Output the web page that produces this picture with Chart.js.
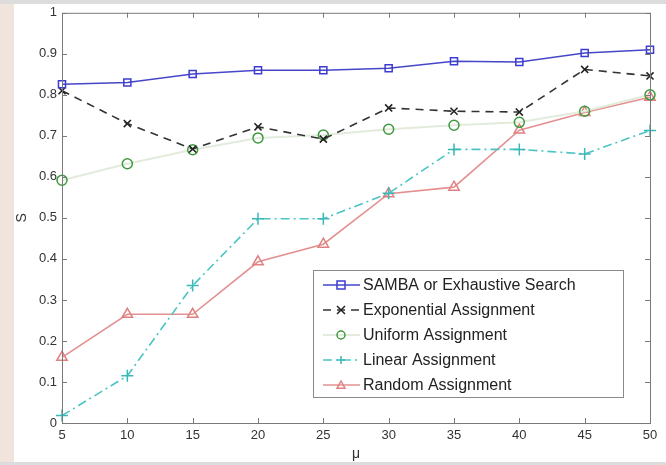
<!DOCTYPE html>
<html>
<head>
<meta charset="utf-8">
<script src="https://cdn.jsdelivr.net/npm/chart.js@4.4.1/dist/chart.umd.min.js"></script>
<style>
  html, body { margin: 0; padding: 0; background: #fff; }
</style>
</head>
<body>
<canvas id="grafico" width="666" height="465"></canvas>
<script>
// valores de mu (eixo x)
const mu = [5, 10, 15, 20, 25, 30, 35, 40, 45, 50];

// séries
const samba       = [0.826, 0.830, 0.851, 0.860, 0.860, 0.865, 0.882, 0.880, 0.902, 0.910];
const exponencial = [0.810, 0.730, 0.668, 0.722, 0.692, 0.768, 0.760, 0.758, 0.862, 0.846];
const uniforme    = [0.592, 0.632, 0.666, 0.695, 0.702, 0.716, 0.726, 0.733, 0.760, 0.800];
const linear      = [0.018, 0.115, 0.335, 0.498, 0.498, 0.560, 0.667, 0.667, 0.656, 0.713];
const aleatorio   = [0.160, 0.265, 0.265, 0.393, 0.436, 0.559, 0.575, 0.714, 0.757, 0.794];

const yTicks = [0, 0.1, 0.2, 0.3, 0.4, 0.5, 0.6, 0.7, 0.8, 0.9, 1];

const nomes = [
  "SAMBA or Exhaustive Search",
  "Exponential Assignment",
  "Uniform Assignment",
  "Linear Assignment",
  "Random Assignment"
];

const fonte = "'Liberation Sans', Arial, sans-serif";

// desenha um marcador simples
function desenhaMarca(ctx, estilo, x, y, r, cor) {
  ctx.save();
  ctx.strokeStyle = cor;
  ctx.lineWidth = 1.5;
  ctx.setLineDash([]);
  ctx.beginPath();
  if (estilo === "rect") {
    ctx.rect(x - r, y - r, 2 * r, 2 * r);
  } else if (estilo === "circle") {
    ctx.arc(x, y, r, 0, Math.PI * 2);
  } else if (estilo === "crossRot") {
    ctx.moveTo(x - r, y - r); ctx.lineTo(x + r, y + r);
    ctx.moveTo(x + r, y - r); ctx.lineTo(x - r, y + r);
  } else if (estilo === "cross") {
    ctx.moveTo(x - r, y); ctx.lineTo(x + r, y);
    ctx.moveTo(x, y - r); ctx.lineTo(x, y + r);
  } else if (estilo === "triangle") {
    ctx.moveTo(x, y - r);
    ctx.lineTo(x + r, y + r * 0.8);
    ctx.lineTo(x - r, y + r * 0.8);
    ctx.closePath();
  }
  ctx.stroke();
  ctx.restore();
}

// moldura estilo matlab + legenda dentro da área
const moldura = {
  id: "moldura",
  beforeDraw(chart) {
    const ctx = chart.ctx;
    ctx.save();
    ctx.fillStyle = "#ffffff";
    ctx.fillRect(0, 0, chart.width, chart.height);
    ctx.fillStyle = "#f1e4dc";
    ctx.fillRect(0, 0, 14, chart.height);
    ctx.fillStyle = "#dcdcdc";
    ctx.fillRect(0, 0, chart.width, 4);
    ctx.fillRect(0, 462, chart.width, chart.height - 462);
    ctx.restore();
  },
  afterDatasetsDraw(chart) {
    const ctx = chart.ctx;
    const a = chart.chartArea;
    const sx = chart.scales.x, sy = chart.scales.y;
    ctx.save();
    ctx.strokeStyle = "#7a7a7a";
    ctx.lineWidth = 1;
    ctx.setLineDash([]);
    ctx.strokeRect(a.left + 0.5, a.top + 0.5, a.right - a.left, a.bottom - a.top);
    ctx.beginPath();
    mu.forEach((v, i) => {
      const px = Math.round(sx.getPixelForValue(i)) + 0.5;
      ctx.moveTo(px, a.bottom); ctx.lineTo(px, a.bottom - 5);
      ctx.moveTo(px, a.top); ctx.lineTo(px, a.top + 5);
    });
    yTicks.forEach(v => {
      const py = Math.round(sy.getPixelForValue(v)) + 0.5;
      ctx.moveTo(a.left, py); ctx.lineTo(a.left + 5, py);
      ctx.moveTo(a.right, py); ctx.lineTo(a.right - 5, py);
    });
    ctx.stroke();
    ctx.restore();
  },
  afterDraw(chart) {
    const ctx = chart.ctx;
    const bx = 313, by = 270, bw = 310, bh = 127;
    ctx.save();
    ctx.fillStyle = "#ffffff";
    ctx.fillRect(bx, by, bw, bh);
    ctx.strokeStyle = "#8a8a8a";
    ctx.lineWidth = 1;
    ctx.strokeRect(bx + 0.5, by + 0.5, bw, bh);
    chart.data.datasets.forEach((ds, i) => {
      const y = by + 15 + i * 25;
      ctx.strokeStyle = ds.borderColor;
      ctx.lineWidth = ds.borderWidth;
      ctx.setLineDash(ds.borderDash || []);
      ctx.beginPath();
      ctx.moveTo(bx + 10, y);
      ctx.lineTo(bx + 47, y);
      ctx.stroke();
      desenhaMarca(ctx, ds.pointStyle, bx + 28, y, 4, ds.pointBorderColor);
      ctx.fillStyle = "#222";
      ctx.font = "16px " + fonte;
      ctx.textBaseline = "middle";
      ctx.fillText(ds.label, bx + 50, y + 1);
    });
    ctx.restore();
  }
};

const ctx = document.getElementById("grafico").getContext("2d");

const grafico = new Chart(ctx, {
  type: "line",
  data: {
    labels: mu,
    datasets: [
      {
        label: nomes[0], data: samba,
        borderColor: "#4646c8", pointBorderColor: "#3c3cd2", pointBackgroundColor: "rgba(255,255,255,0)",
        borderWidth: 1.5, pointStyle: "rect", pointRadius: 5, pointBorderWidth: 1.5, clip: false
      },
      {
        label: nomes[1], data: exponencial,
        borderColor: "#333333", pointBorderColor: "#222222", pointBackgroundColor: "rgba(255,255,255,0)",
        borderWidth: 1.6, borderDash: [8, 6], pointStyle: "crossRot", pointRadius: 5, pointBorderWidth: 1.6, clip: false
      },
      {
        label: nomes[2], data: uniforme,
        borderColor: "#e2ebdc", pointBorderColor: "#3f9a3f", pointBackgroundColor: "rgba(255,255,255,0)",
        borderWidth: 2, pointStyle: "circle", pointRadius: 5, pointBorderWidth: 1.5, clip: false
      },
      {
        label: nomes[3], data: linear,
        borderColor: "#4cc4c4", pointBorderColor: "#3ab8b8", pointBackgroundColor: "rgba(255,255,255,0)",
        borderWidth: 1.6, borderDash: [9, 4, 2, 4], pointStyle: "cross", pointRadius: 6, pointBorderWidth: 1.5, clip: false
      },
      {
        label: nomes[4], data: aleatorio,
        borderColor: "#e49090", pointBorderColor: "#e08080", pointBackgroundColor: "rgba(255,255,255,0)",
        borderWidth: 1.6, pointStyle: "triangle", pointRadius: 6, pointBorderWidth: 1.5, clip: false
      }
    ]
  },
  options: {
    responsive: false,
    animation: false,
    devicePixelRatio: 1,
    layout: { padding: { left: 14, top: 10, right: 16, bottom: 0 } },
    plugins: { legend: { display: false }, tooltip: { enabled: false } },
    elements: { line: { tension: 0 } },
    scales: {
      x: {
        type: "category",
        offset: false,
        grid: { display: false, drawTicks: false },
        border: { display: false },
        ticks: { color: "#333", font: { family: fonte, size: 13 }, padding: 5, maxRotation: 0, autoSkip: false },
        title: { display: true, text: "μ", color: "#333", font: { family: fonte, size: 14 }, padding: { top: 0, bottom: 2 } },
        afterFit(s) { s.height = 42; }
      },
      y: {
        min: 0, max: 1,
        afterBuildTicks(s) { s.ticks = yTicks.map(v => ({ value: v })); },
        grid: { display: false, drawTicks: false },
        border: { display: false },
        ticks: { color: "#333", font: { family: fonte, size: 13 }, padding: 5, callback: v => String(v) },
        title: { display: true, text: "S", color: "#333", font: { family: fonte, size: 14 }, padding: { top: 0, bottom: 0 } },
        afterFit(s) { s.width = 48; }
      }
    }
  },
  plugins: [moldura]
});
</script>
</body>
</html>
